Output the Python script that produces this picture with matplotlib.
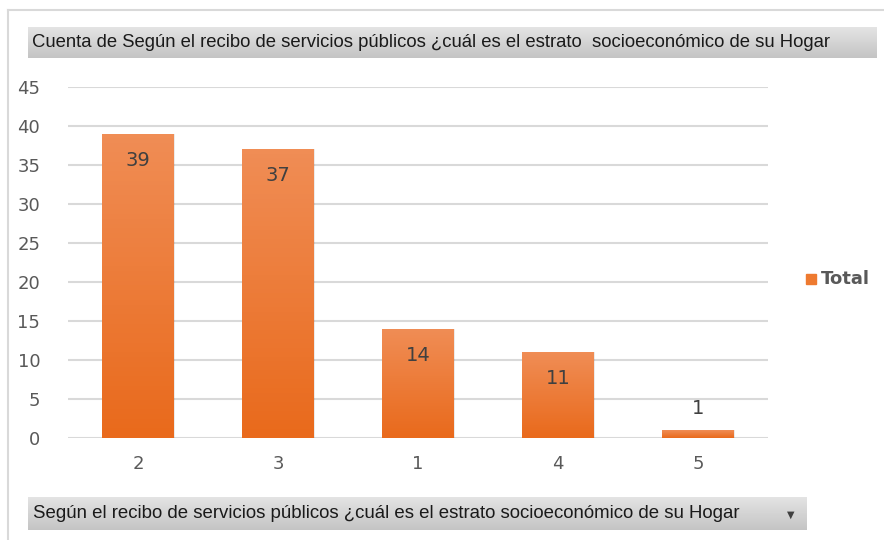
import numpy as np
import matplotlib
matplotlib.use("Agg")
import matplotlib.pyplot as plt
from matplotlib.patches import Rectangle
from matplotlib.lines import Line2D

# data
categories = ["2", "3", "1", "4", "5"]
counts = [39, 37, 14, 11, 1]
series_name = "Total"
title_text = "Cuenta de Según el recibo de servicios públicos ¿cuál es el estrato  socioeconómico de su Hogar"
field_text = "Según el recibo de servicios públicos ¿cuál es el estrato socioeconómico de su Hogar"

plt.rcParams['font.family'] = ['Liberation Sans', 'DejaVu Sans']

W, H = 884, 540
fig = plt.figure(figsize=(W / 100, H / 100), dpi=100)
fig.patch.set_facecolor("white")
renderer = fig.canvas.get_renderer()

def fx(px):
    return px / W

def fy(py):
    return 1 - py / H

# outer chart frame (only left and top edges visible)
fig.add_artist(Line2D([fx(8), fx(8)], [fy(10), fy(540)], color="#D9D9D9", lw=1.5))
fig.add_artist(Line2D([fx(8), fx(884)], [fy(10), fy(10)], color="#D9D9D9", lw=1.5))

def gray_box(x0, y0, x1, y1):
    bax = fig.add_axes([fx(x0), fy(y1), fx(x1 - x0), (y1 - y0) / H])
    grad = np.linspace(0, 1, 64).reshape(-1, 1)
    bax.imshow(grad, cmap=matplotlib.colors.LinearSegmentedColormap.from_list(
        "g", ["#E4E4E4", "#C4C4C4"]), aspect="auto", extent=[0, 1, 0, 1], origin="upper")
    bax.set_xlim(0, 1)
    bax.set_ylim(0, 1)
    bax.axis("off")
    return bax

def fit_text(t, width_px):
    # shrink the font until the text is as wide as in the reference
    w = t.get_window_extent(renderer).width
    t.set_fontsize(t.get_fontsize() * width_px / w)

tax = gray_box(28, 27, 877, 58)
t1 = tax.text(0.005, 0.5, title_text, fontsize=13.5, color="#1A1A1A", va="center", ha="left")
fit_text(t1, 800)

fax = gray_box(28, 497, 807, 530)
t2 = fax.text(0.006, 0.5, field_text, fontsize=13.5, color="#1A1A1A", va="center", ha="left")
fit_text(t2, 710)
fax.text(0.979, 0.45, "▼", fontsize=7, color="#404040", va="center", ha="center",
         family="DejaVu Sans")

# main plot
ax = fig.add_axes([fx(68), fy(438), fx(768 - 68), (438 - 87) / H])
x = np.arange(len(categories))
bw = 0.51
ax.set_xlim(-0.5, len(categories) - 0.5)
ax.set_ylim(0, 45)
ax.set_yticks(range(0, 46, 5))
ax.grid(axis="y", color="#D9D9D9", lw=1.5)
ax.set_axisbelow(True)
for s in ax.spines.values():
    s.set_visible(False)
ax.tick_params(length=0, labelsize=13, labelcolor="#595959", pad=12)
ax.tick_params(axis="y", pad=20)
ax.set_xticks(x)
ax.set_xticklabels(categories, family="DejaVu Sans")
for lab in ax.get_yticklabels():
    lab.set_family("DejaVu Sans")

cmap = matplotlib.colors.LinearSegmentedColormap.from_list("o", ["#F08D55", "#E96A1C"])
bars = ax.bar(x, counts, width=bw, color="none", zorder=3)
for i, (b, v) in enumerate(zip(bars, counts)):
    # soft shadow
    ax.add_patch(Rectangle((b.get_x() + 0.012, 0), bw, v, color="#000000", alpha=0.08,
                           lw=0, zorder=2))
    im = ax.imshow(np.linspace(0, 1, 64).reshape(-1, 1), cmap=cmap, aspect="auto",
                   extent=[b.get_x(), b.get_x() + bw, 0, max(v, 0.01)], origin="upper",
                   zorder=3)
    im.set_clip_path(b)
    if v > 3:
        ax.text(i, v - 3.4, str(v), ha="center", va="center", fontsize=14,
                color="#404040", family="DejaVu Sans", zorder=4)
    else:
        ax.text(i, v + 2.8, str(v), ha="center", va="center", fontsize=14,
                color="#404040", family="DejaVu Sans", zorder=4)
ax.set_xlim(-0.5, len(categories) - 0.5)
ax.set_ylim(0, 45)

# legend
fig.add_artist(Rectangle((fx(806), fy(284)), fx(10), 10 / H, color="#EE7A30",
                         transform=fig.transFigure))
fig.text(fx(821), fy(279), series_name, fontsize=13, color="#595959", va="center",
         ha="left", weight="bold", family="DejaVu Sans")

fig.savefig("out.png", dpi=100)
